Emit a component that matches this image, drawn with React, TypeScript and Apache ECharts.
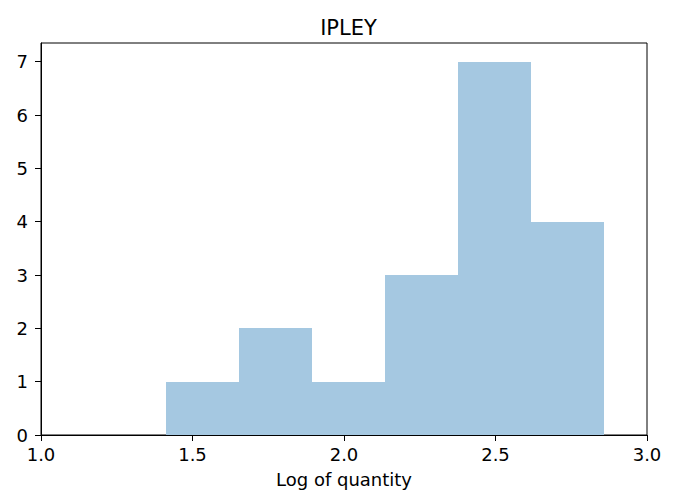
import React, { useEffect, useRef } from "react";
import * as echarts from "echarts";

const title = "IPLEY";
const xLabel = "Log of quantity";
const binEdges = [1.4125, 1.653, 1.894, 2.135, 2.376, 2.617, 2.858];
const counts = [1, 2, 1, 3, 7, 4];
const xTicks = [1.0, 1.5, 2.0, 2.5, 3.0];
const yTicks = [0, 1, 2, 3, 4, 5, 6, 7];

export default function App() {
  const ref = useRef<HTMLDivElement>(null);
  useEffect(() => {
    if (!ref.current) return;
    const chart = echarts.init(ref.current, undefined, { renderer: "svg" });
    const data = counts.map((c, i) => [binEdges[i], binEdges[i + 1], c]);
    const font = "DejaVu Sans";
    chart.setOption({
      animation: false,
      textStyle: { fontFamily: font },
      title: {
        text: title,
        left: 343.5,
        top: 12,
        textAlign: "center",
        textStyle: { fontFamily: font, fontSize: 21, fontWeight: "normal", color: "#000" },
      },
      grid: {
        left: 41,
        right: 30,
        top: 43,
        bottom: 57,
        containLabel: false,
        outerBoundsMode: "none",
        show: true,
        borderColor: "#000",
        borderWidth: 1,
        backgroundColor: "transparent",
      },
      xAxis: {
        type: "value",
        min: xTicks[0],
        max: xTicks[xTicks.length - 1],
        interval: 0.5,
        splitLine: { show: false },
        axisLine: { show: true, lineStyle: { color: "#000", width: 1 } },
        axisTick: { show: true, length: 6, lineStyle: { color: "#000" } },
        axisLabel: {
          color: "#000",
          fontSize: 18,
          margin: 10,
          formatter: (v: number) => v.toFixed(1),
        },
        name: xLabel,
        nameLocation: "middle",
        nameGap: 35,
        nameTextStyle: { color: "#000", fontSize: 18, fontFamily: font },
      },
      yAxis: {
        type: "value",
        min: 0,
        max: 7.35,
        interval: 1,
        splitLine: { show: false },
        axisLine: { show: true, lineStyle: { color: "#000", width: 1 } },
        axisTick: { show: true, length: 6, lineStyle: { color: "#000" } },
        axisLabel: {
          color: "#000",
          fontSize: 18,
          margin: 13,
          showMaxLabel: false,
          formatter: (v: number) => (yTicks.includes(v) ? String(v) : ""),
        },
      },
      series: [
        {
          type: "custom",
          data,
          encode: { x: [0, 1], y: 2 },
          renderItem: (params: any, api: any) => {
            const x0 = api.value(0);
            const x1 = api.value(1);
            const y = api.value(2);
            const p0 = api.coord([x0, y]);
            const p1 = api.coord([x1, 0]);
            const left = Math.round(p0[0]);
            const right = Math.round(p1[0]);
            const top = Math.round(p0[1]);
            const bottom = Math.round(p1[1]);
            return {
              type: "rect",
              shape: { x: left, y: top, width: right - left, height: bottom - top },
              style: { fill: "#a5c8e1" },
            };
          },
        },
      ],
    });
    return () => chart.dispose();
  }, []);
  return (
    <div
      ref={ref}
      style={{ position: "absolute", left: 0, top: 0, width: 677, height: 492 }}
    />
  );
}
